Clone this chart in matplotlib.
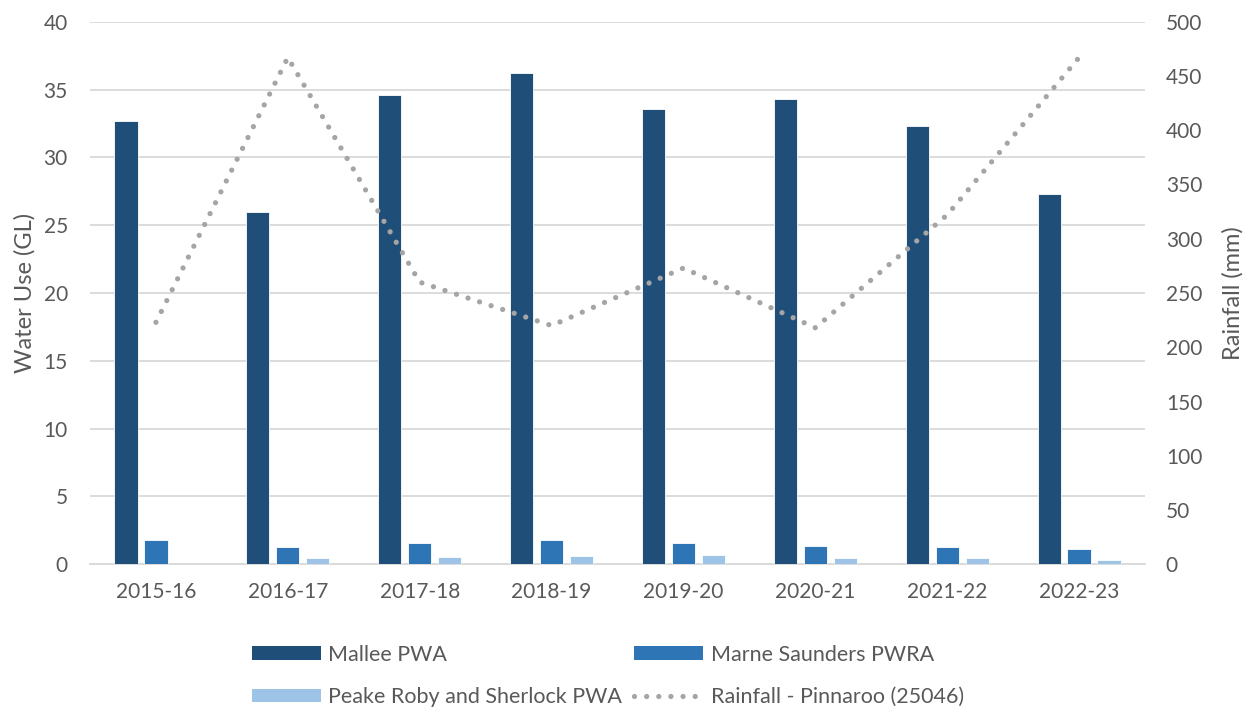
import numpy as np
import matplotlib
matplotlib.use("Agg")
import matplotlib.pyplot as plt
from matplotlib.patches import Patch
from matplotlib.lines import Line2D

# Data
years = ["2015-16", "2016-17", "2017-18", "2018-19", "2019-20", "2020-21", "2021-22", "2022-23"]
mallee = [32.7, 26.0, 34.6, 36.2, 33.6, 34.3, 32.3, 27.3]
marne_saunders = [1.81, 1.25, 1.55, 1.82, 1.55, 1.35, 1.30, 1.15]
peake_roby = [0.02, 0.50, 0.52, 0.61, 0.68, 0.46, 0.46, 0.31]
rainfall = [223, 467, 260, 220, 273, 218, 322, 467]

left_ticks = list(range(0, 41, 5))
right_ticks = list(range(0, 501, 50))

C_MALLEE = "#1F4E79"
C_MARNE = "#2E75B6"
C_PEAKE = "#9DC3E6"
C_RAIN = "#A5A5A5"
C_TEXT = "#595959"
C_GRID = "#D9D9D9"

plt.rcParams["font.family"] = ["Lato", "DejaVu Sans"]

fig = plt.figure(figsize=(12.5, 7.07), dpi=100)
ax = fig.add_axes([0.072, 0.2018, 0.844, 0.7675])
ax2 = ax.twinx()

x = np.arange(len(years))
w = 0.176
step = 0.227
ax.bar(x - step, mallee, w, color=C_MALLEE, edgecolor="white", linewidth=0.6, zorder=3)
ax.bar(x, marne_saunders, w, color=C_MARNE, edgecolor="white", linewidth=0.6, zorder=3)
ax.bar(x + step, peake_roby, w, color=C_PEAKE, edgecolor="white", linewidth=0.6, zorder=3)

dots = (0, (0.001, 2.3))
ax2.plot(x, rainfall, color=C_RAIN, linewidth=3.8, linestyle=dots,
         dash_capstyle="round", zorder=4)

ax.set_xlim(-0.5, len(years) - 0.5)
ax.set_ylim(0, 40)
ax2.set_ylim(0, 500)
ax.set_yticks(left_ticks)
ax2.set_yticks(right_ticks)
ax.set_xticks(x)
ax.set_xticklabels(years)

ax.grid(axis="y", color=C_GRID, linewidth=1.3, zorder=0)
ax.set_axisbelow(True)
for a in (ax, ax2):
    for s in a.spines.values():
        s.set_visible(False)
ax.spines["bottom"].set_visible(True)
ax.spines["bottom"].set_color(C_GRID)
ax.spines["bottom"].set_linewidth(1.3)

ax.tick_params(axis="both", length=0, labelsize=15, colors=C_TEXT)
ax.tick_params(axis="x", pad=13)
ax.tick_params(axis="y", pad=16)
ax2.tick_params(axis="y", length=0, labelsize=15, colors=C_TEXT, pad=15)

ax.set_ylabel("Water Use (GL)", fontsize=17, color=C_TEXT, labelpad=6)
ax2.set_ylabel("Rainfall (mm)", fontsize=17, color=C_TEXT, labelpad=14)

handles = [
    Patch(facecolor=C_MALLEE, label="Mallee PWA"),
    Patch(facecolor=C_PEAKE, label="Peake Roby and Sherlock PWA"),
    Patch(facecolor=C_MARNE, label="Marne Saunders PWRA"),
    Line2D([0], [0], color=C_RAIN, linewidth=3.8, linestyle=dots,
           dash_capstyle="round", label="Rainfall - Pinnaroo (25046)"),
]
leg = fig.legend(handles=handles, ncol=2, loc="upper left",
                 bbox_to_anchor=(243 / 1250, 1 - 636 / 707), frameon=False,
                 fontsize=15.5, handlelength=3.2, handleheight=0.6,
                 handletextpad=0.35, columnspacing=0.58, labelspacing=1.05,
                 borderaxespad=0)
for t in leg.get_texts():
    t.set_color(C_TEXT)

fig.savefig("out.png", dpi=100, facecolor="white")
